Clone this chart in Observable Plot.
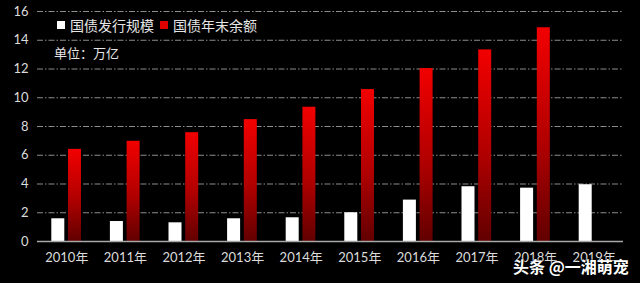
<!DOCTYPE html>
<html><head><meta charset="utf-8">
<script src="https://cdn.jsdelivr.net/npm/d3@7"></script>
<script src="https://cdn.jsdelivr.net/npm/@observablehq/plot@0.6"></script>
<style>
body{margin:0;background:#000;}
#wrap{position:relative;width:640px;height:283px;background:#000;font-family:"Noto Sans CJK SC",sans-serif;overflow:hidden;}
.lg{position:absolute;color:#e6e6e6;font-size:14px;line-height:14px;white-space:nowrap;}
.sq{position:absolute;width:8px;height:8px;}
.unit{position:absolute;color:#e6e6e6;font-size:13px;line-height:13px;white-space:nowrap;}
.wm{position:absolute;color:#fff;font-size:16px;font-weight:bold;line-height:16px;white-space:nowrap;text-shadow:0 0 2px #000,1px 1px 2px #000;}
</style></head><body><div id="wrap"></div>
<script>
const years = ["2010年","2011年","2012年","2013年","2014年","2015年","2016年","2017年","2018年","2019年"];
const issuance = [1.58, 1.39, 1.30, 1.58, 1.65, 2.0, 2.88, 3.81, 3.71, 3.95];
const balance = [6.41, 6.97, 7.57, 8.48, 9.34, 10.57, 12.03, 13.33, 14.87, null];
const yTicks = [0, 2, 4, 6, 8, 10, 12, 14, 16];
const seriesNames = ["国债发行规模", "国债年末余额"];
const seriesColors = ["#ffffff", "#e00000"];
const unitLabel = "单位：万亿";
const watermark = "头条 @一湘萌宠";

const issueData = years.map((year, i) => ({year, value: issuance[i]}));
const balanceData = years.map((year, i) => ({year, value: balance[i]})).filter(d => d.value != null);

const chart = Plot.plot({
  width: 640, height: 283,
  marginLeft: 37, marginRight: 17, marginTop: 11, marginBottom: 42,
  style: {background: "#000", color: "#dcdcdc", fontFamily: "Lato, 'Noto Sans CJK SC', sans-serif", fontSize: "13px"},
  x: {domain: years, padding: 0, round: false, tickSize: 0, tickPadding: 11, label: null},
  y: {domain: [0, 16], ticks: yTicks, tickSize: 0, tickPadding: 9, label: null},
  marks: [
    Plot.ruleY(yTicks.filter(d => d > 0), {stroke: "#8c8c8c", strokeWidth: 1, strokeDasharray: "6,2,1.5,2"}),
    Plot.barY(issueData, {x: "year", y: "value", fill: seriesColors[0], insetLeft: 14.3, insetRight: 31.3}),
    Plot.barY(balanceData, {x: "year", y: "value", fill: "url(#redGrad)", insetLeft: 31, insetRight: 14.6}),
    Plot.ruleY([0], {stroke: "#a8a8a8", strokeWidth: 1.5})
  ]
});
chart.insertAdjacentHTML("afterbegin",
  '<defs><linearGradient id="redGrad" x1="0" y1="0" x2="0" y2="1">' +
  '<stop offset="0" stop-color="#f20000"/><stop offset="0.55" stop-color="#b00000"/><stop offset="1" stop-color="#620000"/>' +
  '</linearGradient></defs>');
const wrap = document.getElementById("wrap");
wrap.appendChild(chart);

function add(cls, text, left, top, extra) {
  const el = document.createElement("div");
  el.className = cls;
  if (text) el.textContent = text;
  el.style.left = left + "px";
  el.style.top = top + "px";
  if (extra) Object.assign(el.style, extra);
  wrap.appendChild(el);
}
add("sq", null, 57, 21, {background: seriesColors[0]});
add("lg", seriesNames[0], 70, 18);
add("sq", null, 160, 21, {background: seriesColors[1]});
add("lg", seriesNames[1], 173, 18);
add("unit", unitLabel, 54, 46);
add("wm", watermark, 513, 258);
</script></body></html>
